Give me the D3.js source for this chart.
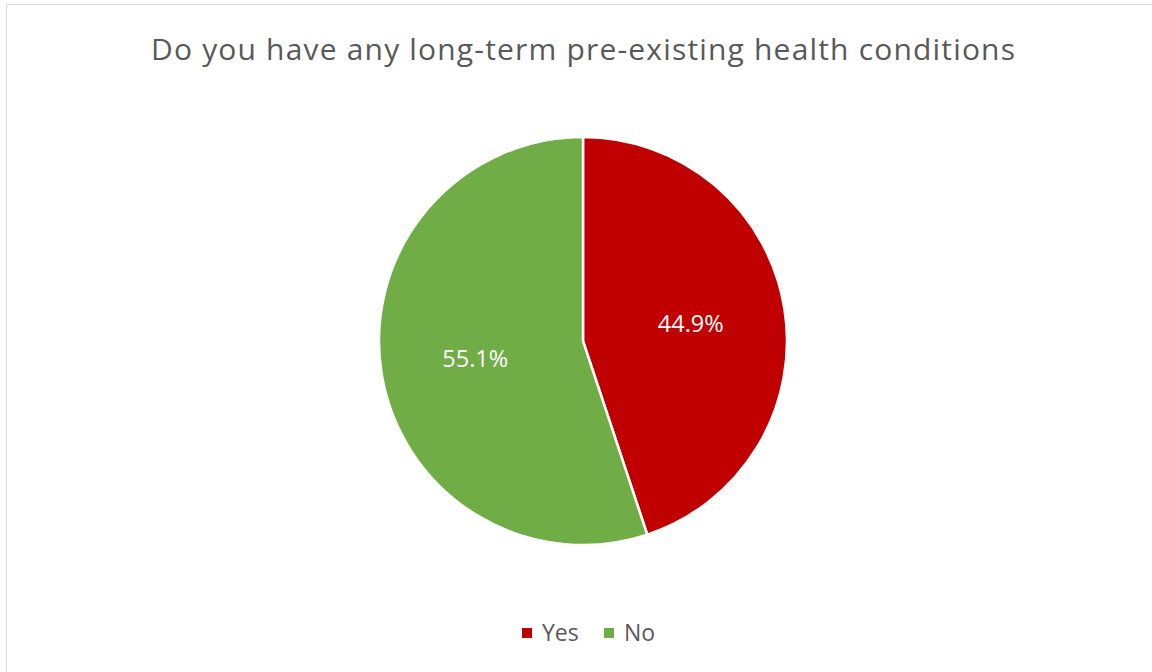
<!DOCTYPE html>
<html>
<head>
  <meta charset="UTF-8">
  <style>
    body { margin: 0; background: #fff; }
    svg { display: block; }
    text { font-family: "Open Sans", "Noto Sans", sans-serif; }
  </style>
</head>
<body>
  <svg></svg>
<script src="https://cdn.jsdelivr.net/npm/d3@7"></script>
<script>
    let width = 1152;
    let height = 672;

    let title = "Do you have any long-term pre-existing health conditions";
    let categories = ["Yes", "No"];
    let values = [44.9, 55.1];
    let colors = ["#c00000", "#70ad47"];

    let svg = d3.select("svg")
        .attr("width", width)
        .attr("height", height);

    // chart frame
    svg.append("rect")
        .attr("x", 6.5).attr("y", 4.5)
        .attr("width", width + 10).attr("height", height + 10)
        .attr("fill", "#fff")
        .attr("stroke", "#d9d9d9");

    svg.append("text")
        .attr("x", 583).attr("y", 60)
        .attr("text-anchor", "middle")
        .attr("font-size", 30)
        .attr("textLength", 864)
        .attr("lengthAdjust", "spacing")
        .attr("fill", "#595959")
        .text(title);

    let data = categories.map((c, i) => ({ name: c, value: values[i] }));

    let cx = 583, cy = 341, r = 204;

    let pie = d3.pie().value(d => d.value).sort(null);
    let arc = d3.arc().innerRadius(0).outerRadius(r);
    let labelArc = d3.arc().innerRadius(r * 0.535).outerRadius(r * 0.535);

    let g = svg.append("g").attr("transform", "translate(" + cx + "," + cy + ")");

    let arcs = pie(data);

    g.selectAll("path")
      .data(arcs)
      .enter()
      .append("path")
        .attr("d", arc)
        .attr("fill", (d, i) => colors[i])
        .attr("stroke", "#fff")
        .attr("stroke-width", 2.5);

    g.selectAll("text.lbl")
      .data(arcs)
      .enter()
      .append("text")
        .attr("class", "lbl")
        .attr("transform", d => "translate(" + labelArc.centroid(d) + ")")
        .attr("text-anchor", "middle")
        .attr("dy", "0.35em")
        .attr("font-size", 23.5)
        .attr("fill", "#fff")
        .text(d => d.data.value.toFixed(1) + "%");

    // legend
    let legend = svg.append("g").attr("transform", "translate(522,633)");
    let lx = [0, 82];
    let item = legend.selectAll("g")
      .data(data)
      .enter()
      .append("g")
        .attr("transform", (d, i) => "translate(" + lx[i] + ",0)");
    item.append("rect")
        .attr("x", 0).attr("y", -5)
        .attr("width", 10).attr("height", 10)
        .attr("fill", (d, i) => colors[i]);
    item.append("text")
        .attr("x", 20).attr("y", 0)
        .attr("dy", "0.35em")
        .attr("font-size", 23)
        .attr("fill", "#595959")
        .text(d => d.name);
</script>
</body>
</html>
